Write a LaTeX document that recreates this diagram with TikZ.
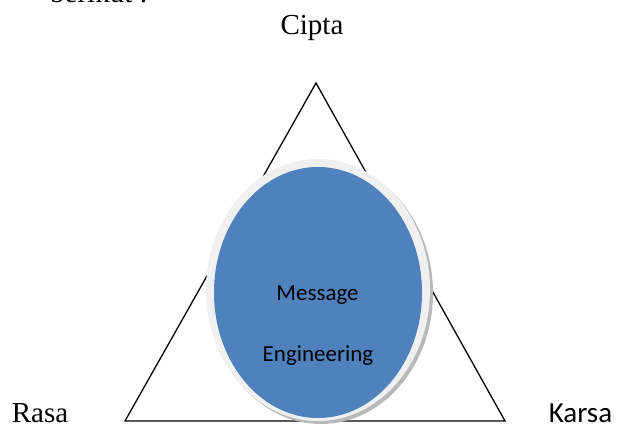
\documentclass[tikz,border=0pt]{standalone}
\usepackage{fontspec}
\setmainfont{Liberation Serif}
\newfontfamily\calibri{Carlito}
\usepackage{xcolor}
\usetikzlibrary{shapes.geometric, positioning}
\definecolor{msgblue}{HTML}{4F81BD}
\definecolor{ringgray}{HTML}{F0F0F0}

\begin{document}
\begin{tikzpicture}[
    x=1pt, y=1pt,
    word/.style={anchor=base, inner sep=0pt, font=\fontsize{29}{34}\selectfont},
    sword/.style={word, font=\calibri\fontsize{29}{34}\selectfont},
    inword/.style={anchor=base, inner sep=0pt, font=\calibri\fontsize{23}{28}\selectfont},
    ring/.style={ellipse, minimum width=224pt, minimum height=262pt, inner sep=0pt},
    edge/.style={line width=1.3pt, line join=miter},
]
\useasboundingbox (0,0) rectangle (618,425);

% sisa teks di atas
\node[word, anchor=base west] (lead) at (50,422) {berikut :};

% segitiga
\coordinate (top) at (316,342);
\coordinate (left) at (125,4);
\coordinate (right) at (505,4);
\draw[edge] (top) -- (left) -- (right) -- cycle;

% lingkaran tengah
\node[ring, fill=gray!55] (shadow) at (321,132) {};
\node[ring, fill=ringgray] (outer) at (318,135) {};
\node[ellipse, minimum width=208pt, minimum height=251pt, inner sep=0pt,
      fill=msgblue] (msg) at (318,132.5) {};
\node[inword] (msg_top) at (317.5,124) {Message};
\node[inword] (msg_bot) at (318,63) {Engineering};

% label sudut
\node[word] (cipta) at (312,390) {Cipta};
\node[word] (rasa) at (40,2.5) {Rasa};
\node[sword] (karsa) at (580.5,2) {Karsa};

\end{tikzpicture}
\end{document}
